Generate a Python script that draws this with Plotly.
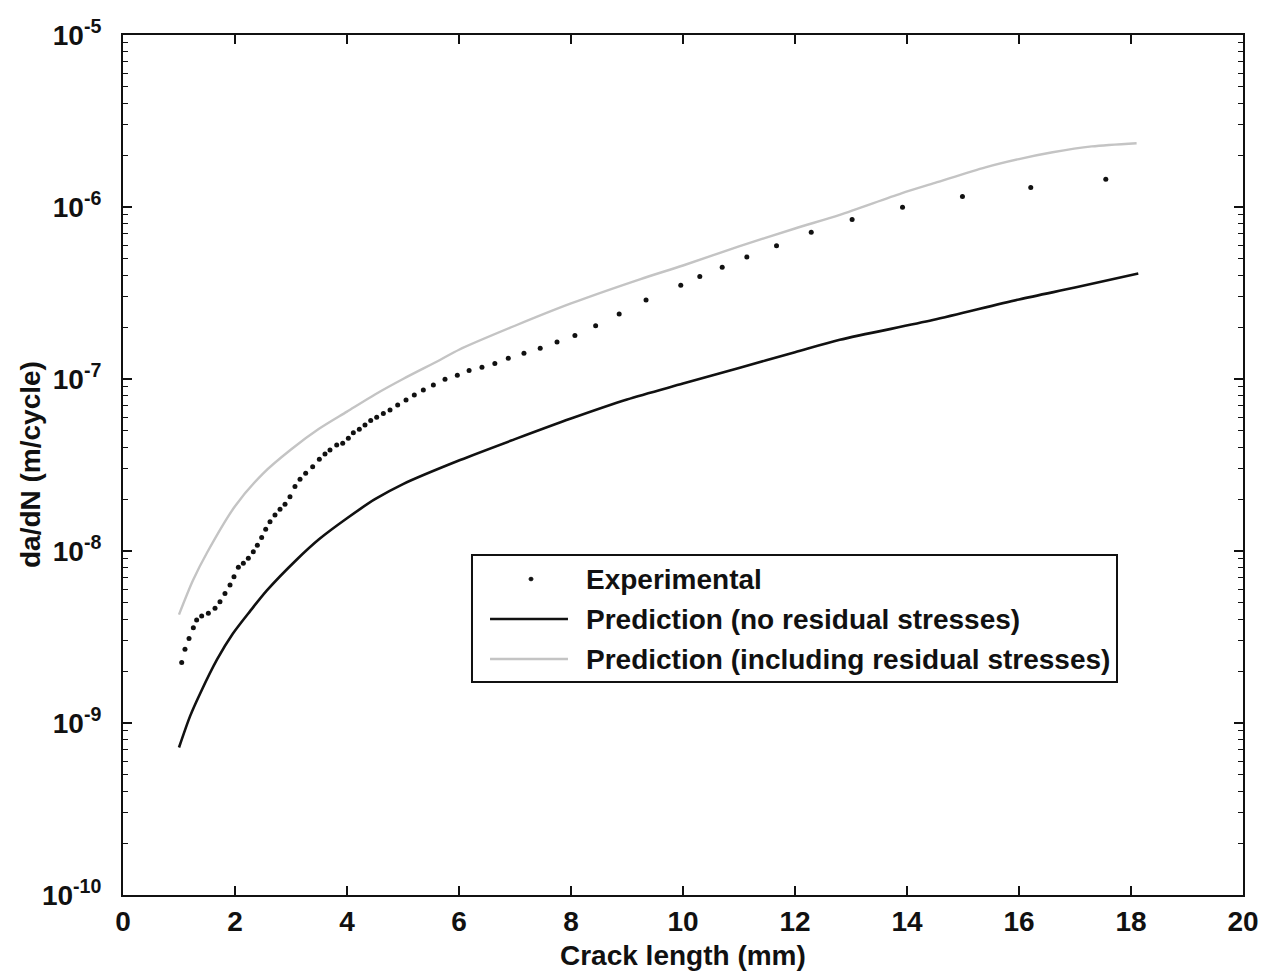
import plotly.graph_objects as go

# Crack growth rate versus crack length
exp_a = [1.048, 1.107, 1.179, 1.256, 1.315, 1.405, 1.524, 1.643, 1.732, 1.821,
         1.911, 1.982, 2.060, 2.149, 2.238, 2.327, 2.399, 2.476, 2.548, 2.625,
         2.714, 2.804, 2.893, 2.982, 3.071, 3.161, 3.262, 3.387, 3.506, 3.607,
         3.696, 3.816, 3.923, 4.024, 4.113, 4.220, 4.321, 4.423, 4.530, 4.649,
         4.768, 4.905, 5.054, 5.202, 5.363, 5.542, 5.750, 5.970, 6.180, 6.410,
         6.640, 6.880, 7.160, 7.450, 7.750, 8.070, 8.440, 8.860, 9.340, 9.960,
         10.30, 10.70, 11.14, 11.67, 12.29, 13.02, 13.92, 14.99, 16.21, 17.55]
exp_dadn = [2.25e-9, 2.68e-9, 3.10e-9, 3.58e-9, 3.97e-9, 4.19e-9, 4.34e-9, 4.65e-9, 5.07e-9, 5.67e-9,
            6.34e-9, 7.09e-9, 8.04e-9, 8.48e-9, 9.06e-9, 9.90e-9, 1.08e-8, 1.20e-8, 1.34e-8, 1.48e-8,
            1.62e-8, 1.75e-8, 1.87e-8, 2.07e-8, 2.37e-8, 2.61e-8, 2.83e-8, 3.09e-8, 3.41e-8, 3.66e-8,
            3.86e-8, 4.13e-8, 4.23e-8, 4.52e-8, 4.87e-8, 5.10e-8, 5.40e-8, 5.73e-8, 5.99e-8, 6.31e-8,
            6.60e-8, 7.06e-8, 7.55e-8, 8.07e-8, 8.63e-8, 9.23e-8, 9.95e-8, 1.05e-7, 1.12e-7, 1.17e-7,
            1.23e-7, 1.32e-7, 1.41e-7, 1.51e-7, 1.64e-7, 1.79e-7, 2.04e-7, 2.39e-7, 2.88e-7, 3.51e-7,
            3.94e-7, 4.46e-7, 5.12e-7, 5.96e-7, 7.13e-7, 8.47e-7, 9.95e-7, 1.15e-6, 1.30e-6, 1.45e-6]

pred_a = [1.0, 1.2, 1.38, 1.68, 1.96, 2.27, 2.57, 3.1, 3.5, 4.0, 4.5, 5.0, 6.02, 7.0, 8.0, 9.0,
          10.0, 11.0, 12.0, 12.8, 14.46, 16.0, 17.0, 18.13]
pred_no_rs = [7.2e-10, 1.1e-9, 1.49e-9, 2.34e-9, 3.3e-9, 4.47e-9, 5.9e-9, 8.9e-9, 1.17e-8, 1.55e-8,
              2.0e-8, 2.45e-8, 3.38e-8, 4.47e-8, 5.89e-8, 7.6e-8, 9.4e-8, 1.16e-7, 1.43e-7, 1.69e-7,
              2.2e-7, 2.9e-7, 3.4e-7, 4.1e-7]

pred_rs_a = [1.0, 1.25, 1.5, 2.0, 2.5, 3.0, 3.5, 4.0, 4.5, 5.0, 5.66, 6.0, 7.0, 8.0, 9.23,
             10.0, 11.0, 12.0, 12.8, 13.9, 14.5, 15.4, 16.0, 16.6, 17.3, 18.1]
pred_rs = [4.27e-9, 6.76e-9, 9.77e-9, 1.82e-8, 2.82e-8, 3.89e-8, 5.13e-8, 6.46e-8, 8.13e-8, 1.0e-7,
           1.29e-7, 1.48e-7, 2.04e-7, 2.75e-7, 3.8e-7, 4.57e-7, 5.9e-7, 7.5e-7, 9.0e-7, 1.2e-6,
           1.38e-6, 1.7e-6, 1.9e-6, 2.08e-6, 2.25e-6, 2.35e-6]

x_ticks = [0, 2, 4, 6, 8, 10, 12, 14, 16, 18, 20]
y_exps = [-10, -9, -8, -7, -6, -5]
y_ticks = [10.0 ** e for e in y_exps]
y_labels = [f"10<sup>{e}</sup>" for e in y_exps]
legend_labels = ["Experimental", "Prediction (no residual stresses)",
                 "Prediction (including residual stresses)"]
x_title = "Crack length (mm)"
y_title = "da/dN (m/cycle)"

FONT = "Liberation Sans, Arial, sans-serif"
INK = "#111111"
GREY = "#c4c4c4"

fig = go.Figure()
fig.add_trace(go.Scatter(x=pred_rs_a, y=pred_rs, mode="lines",
                         line=dict(color=GREY, width=2.4, shape="spline", smoothing=0.8),
                         showlegend=False))
fig.add_trace(go.Scatter(x=pred_a, y=pred_no_rs, mode="lines",
                         line=dict(color=INK, width=2.6, shape="spline", smoothing=0.8),
                         showlegend=False))
fig.add_trace(go.Scatter(x=exp_a, y=exp_dadn, mode="markers",
                         marker=dict(color=INK, size=5, symbol="circle"),
                         showlegend=False))

# Boxed key drawn in paper coordinates
shapes = [
    dict(type="rect", xref="paper", yref="paper", x0=0.3116, x1=0.8875, y0=0.2477, y1=0.3953,
         line=dict(color=INK, width=2), fillcolor="white", layer="above"),
    dict(type="line", xref="paper", yref="paper", x0=0.3277, x1=0.3973, y0=0.3209, y1=0.3209,
         line=dict(color=INK, width=2.6), layer="above"),
    dict(type="line", xref="paper", yref="paper", x0=0.3277, x1=0.3973, y0=0.2744, y1=0.2744,
         line=dict(color=GREY, width=2.4), layer="above"),
    dict(type="circle", xref="paper", yref="paper", x0=0.3625, x1=0.3661, y0=0.3653, y1=0.3695,
         line=dict(color=INK, width=1), fillcolor=INK, layer="above"),
]
annotations = [
    dict(text=f"<b>{t}</b>", xref="paper", yref="paper", x=0.4116, y=y, xanchor="left",
         yanchor="middle", showarrow=False, font=dict(family=FONT, size=28, color=INK))
    for t, y in zip(legend_labels, [0.3674, 0.3209, 0.2744])
]
# Axis titles placed as rotated / centred text
annotations.append(dict(text=f"<b>{x_title}</b>", xref="paper", yref="paper", x=0.5, y=-0.0698,
                        xanchor="center", yanchor="middle", showarrow=False,
                        font=dict(family=FONT, size=28, color=INK)))
annotations.append(dict(text=f"<b>{y_title}</b>", xref="paper", yref="paper", x=-0.083, y=0.5,
                        xanchor="center", yanchor="middle", textangle=-90, showarrow=False,
                        font=dict(family=FONT, size=28, color=INK)))

axis_common = dict(showline=True, linecolor=INK, linewidth=2, mirror="ticks",
                   ticks="inside", ticklen=9, tickwidth=1.5, tickcolor=INK,
                   showgrid=False, zeroline=False, automargin=False,
                   tickfont=dict(family=FONT, size=28, color=INK, weight="bold"))

fig.update_xaxes(range=[0, 20], tickvals=x_ticks, ticklabelstandoff=0, **axis_common)
minor_vals = [k * 10.0 ** e for e in range(-10, -5) for k in range(2, 10)]
fig.update_yaxes(type="log", range=[-10, -5], tickvals=y_ticks, ticktext=y_labels,
                 ticklabelstandoff=14,
                 minor=dict(tickvals=minor_vals, ticks="inside", ticklen=5,
                            tickwidth=1.2, tickcolor=INK),
                 **axis_common)

fig.update_layout(width=1264, height=974, margin=dict(l=123, r=21, t=35, b=79),
                  plot_bgcolor="white", paper_bgcolor="white",
                  shapes=shapes, annotations=annotations, showlegend=False)

fig.write_html("out.html")
